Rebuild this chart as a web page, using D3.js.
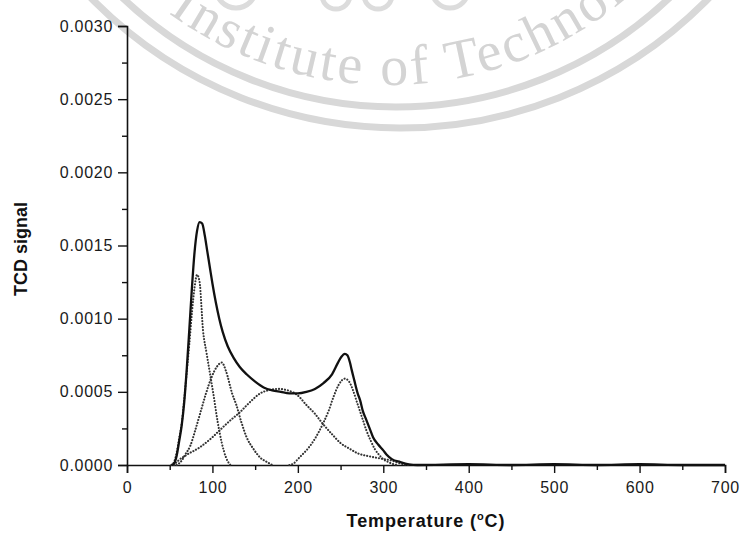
<!DOCTYPE html>
<html>
<head>
<meta charset="utf-8">
<script src="https://cdn.jsdelivr.net/npm/d3@7/dist/d3.min.js"></script>
<style>
  html, body { margin: 0; padding: 0; background: #ffffff; }
  svg { display: block; }
</style>
</head>
<body>
<svg id="chart" width="742" height="534"></svg>
<script>
// ---------------- data ----------------
const xTicks = [0, 100, 200, 300, 400, 500, 600, 700];
const xMinorTicks = [50, 150, 250, 350, 450, 550, 650];
const yTicks = [0, 0.0005, 0.0010, 0.0015, 0.0020, 0.0025, 0.0030];
const yMinorTicks = [0.00025, 0.00075, 0.00125, 0.00175, 0.00225, 0.00275];

// measured TCD signal (solid line)
const mainT = [52, 55, 58, 61, 64, 67, 70, 73, 76, 79, 82, 85, 88, 91, 94, 97, 100, 104, 108, 112, 118, 125, 132, 140, 150, 160, 170, 180, 190, 200, 210, 220, 230, 240, 247, 251, 255, 258, 261, 263, 266, 270, 273, 276, 280, 284, 288, 294, 300, 304, 310, 320, 330, 340, 400, 450, 500, 550, 600, 650, 700];
const mainV = [0, 0.00001, 0.00006, 0.00016, 0.00027, 0.00043, 0.00066, 0.00093, 0.00121, 0.00145, 0.00160, 0.00166, 0.00165, 0.00157, 0.00146, 0.00135, 0.00124, 0.00111, 0.00100, 0.00091, 0.00081, 0.00073, 0.00067, 0.00062, 0.00057, 0.00053, 0.00051, 0.00050, 0.00049, 0.00049, 0.00050, 0.00052, 0.00056, 0.00062, 0.00070, 0.00074, 0.00076, 0.00075, 0.00070, 0.00065, 0.00058, 0.00049, 0.00044, 0.00037, 0.00031, 0.00025, 0.00019, 0.00014, 0.00010, 0.00007, 0.00004, 0.00002, 0.000005, 0, 0.000005, 0, 0.000005, 0, 0.000005, 0, 0];

// deconvoluted peaks (dotted lines)
const peak1T = [52, 55, 58, 61, 64, 67, 70, 73, 76, 79, 82, 85, 89, 93, 97, 101, 106, 111, 116, 121];
const peak1V = [0, 0.00002, 0.00008, 0.00018, 0.00028, 0.00045, 0.00064, 0.00083, 0.00104, 0.00121, 0.00130, 0.00125, 0.00092, 0.00077, 0.00063, 0.00049, 0.00030, 0.00015, 0.00005, 0];

const peak2T = [58, 64, 68, 74, 80, 86, 92, 99, 105, 111, 116, 123, 128, 134, 140, 148, 156, 164, 170];
const peak2V = [0, 0.00003, 0.00007, 0.00013, 0.00024, 0.00036, 0.00048, 0.00060, 0.00067, 0.00070, 0.00064, 0.00049, 0.00041, 0.00029, 0.00019, 0.00011, 0.00005, 0.00002, 0];

const peak3T = [55, 60, 70, 85, 100, 109, 120, 132, 144, 156, 165, 177, 188, 199, 210, 220, 228, 240, 250, 261, 270, 283, 296, 310, 320, 330];
const peak3V = [0, 0.00003, 0.00007, 0.00012, 0.00019, 0.00024, 0.00030, 0.00036, 0.00043, 0.00049, 0.00051, 0.00052, 0.00051, 0.00048, 0.00041, 0.00035, 0.00029, 0.00021, 0.00015, 0.00011, 0.00008, 0.00006, 0.000045, 0.00003, 0.00001, 0];

const peak4T = [190, 195, 200, 205, 210, 220, 230, 236, 242, 248, 255, 260, 264, 268, 272, 276, 280, 285, 290, 295, 300, 306, 312, 318];
const peak4V = [0, 0.00001, 0.00004, 0.00007, 0.00010, 0.00018, 0.00029, 0.00037, 0.00047, 0.00055, 0.00059, 0.00057, 0.00052, 0.00045, 0.00038, 0.00031, 0.00024, 0.00017, 0.00011, 0.00007, 0.00004, 0.00002, 0.000005, 0];

const xTitle = "Temperature (";
const yTitle = "TCD signal";
const watermarkText = "Institute of Technology";

// ---------------- drawing ----------------
const svg = d3.select("#chart");
const W = 742, H = 534;
svg.append("rect").attr("width", W).attr("height", H).attr("fill", "#ffffff");

// faint watermark seal
const wm = svg.append("g").attr("class", "watermark");
wm.append("circle").attr("cx", 400).attr("cy", -304).attr("r", 432)
  .attr("fill", "none").attr("stroke", "#d8d8d8").attr("stroke-width", 7);
wm.append("circle").attr("cx", 396).attr("cy", -290).attr("r", 397)
  .attr("fill", "none").attr("stroke", "#d8d8d8").attr("stroke-width", 7);
[[236, -12, 20], [336, -5, 14], [378, -5, 14], [450, -10, 18]].forEach(c => {
  wm.append("circle").attr("cx", c[0]).attr("cy", c[1]).attr("r", c[2])
    .attr("fill", "none").attr("stroke", "#dcdcdc").attr("stroke-width", 5);
});
const tcx = 388, tcy = -285, tr = 370;
wm.append("path").attr("id", "wmArc")
  .attr("d", `M ${tcx - tr},${tcy} A ${tr},${tr} 0 0 0 ${tcx + tr},${tcy}`)
  .attr("fill", "none").attr("stroke", "none");
wm.append("text")
  .attr("font-family", "'Liberation Serif', 'DejaVu Serif', serif")
  .attr("font-size", 56).attr("fill", "#d4d4d4").attr("letter-spacing", 3)
  .append("textPath").attr("href", "#wmArc").attr("startOffset", 346)
  .text(watermarkText);

const x = d3.scaleLinear().domain([0, 700]).range([127, 725]);
const y = d3.scaleLinear().domain([0, 0.003]).range([465, 26]);

const fontFam = "'Liberation Sans', Arial, sans-serif";

// axes
const gx = svg.append("g").attr("transform", `translate(0,${y(0)})`)
  .call(d3.axisBottom(x).tickValues(xTicks).tickSize(8).tickPadding(9).tickFormat(d3.format("d")));
const gxm = svg.append("g").attr("transform", `translate(0,${y(0)})`)
  .call(d3.axisBottom(x).tickValues(xMinorTicks).tickSize(5).tickFormat(""));
const gy = svg.append("g").attr("transform", `translate(${x(0)},0)`)
  .call(d3.axisLeft(y).tickValues(yTicks).tickSize(9).tickPadding(5).tickFormat(d3.format(".4f")));
const gym = svg.append("g").attr("transform", `translate(${x(0)},0)`)
  .call(d3.axisLeft(y).tickValues(yMinorTicks).tickSize(5).tickFormat(""));

[gx, gxm, gy, gym].forEach(g => {
  g.selectAll(".domain").attr("stroke", "#111").attr("stroke-width", 1.6);
  g.selectAll(".tick line").attr("stroke", "#111").attr("stroke-width", 1.4);
  g.selectAll("text").attr("font-family", fontFam).attr("font-size", 16)
    .attr("fill", "#1a1a1a").attr("letter-spacing", 0.7);
});
gxm.select(".domain").remove();
gym.select(".domain").remove();

// lines
const line = d3.line().x(d => x(d[0])).y(d => y(d[1])).curve(d3.curveMonotoneX);
const zip = (a, b) => a.map((t, i) => [t, b[i]]);

[[peak1T, peak1V], [peak2T, peak2V], [peak3T, peak3V], [peak4T, peak4V]].forEach(p => {
  svg.append("path").datum(zip(p[0], p[1])).attr("d", line)
    .attr("fill", "none").attr("stroke", "#333").attr("stroke-width", 2.1)
    .attr("stroke-linecap", "round").attr("stroke-dasharray", "0.1,2.9");
});
svg.append("path").datum(zip(mainT, mainV)).attr("d", line)
  .attr("fill", "none").attr("stroke", "#111").attr("stroke-width", 2.3)
  .attr("stroke-linejoin", "round");

// titles
const xt = svg.append("text").attr("x", (x(0) + x(700)) / 2).attr("y", 527)
  .attr("text-anchor", "middle").attr("font-family", fontFam).attr("font-size", 18)
  .attr("font-weight", "bold").attr("fill", "#111").attr("letter-spacing", 0.9);
xt.append("tspan").text(xTitle);
xt.append("tspan").attr("dy", -7).attr("font-size", 11).text("o");
xt.append("tspan").attr("dy", 7).text("C)");

svg.append("text").attr("transform", "translate(27,249) rotate(-90)")
  .attr("text-anchor", "middle").attr("font-family", fontFam).attr("font-size", 18)
  .attr("font-weight", "bold").attr("fill", "#111").text(yTitle);
</script>
</body>
</html>
